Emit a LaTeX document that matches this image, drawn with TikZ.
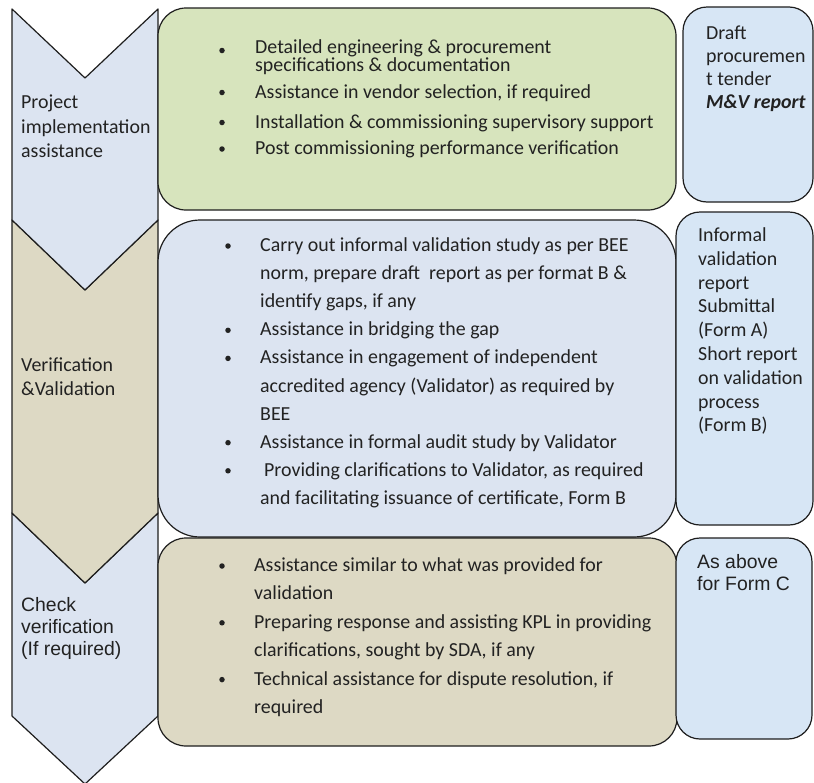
\documentclass[tikz,border=0pt]{standalone}
\usepackage{fontspec}
\setmainfont{Carlito}
\newfontfamily\arialfont{Liberation Sans}

\definecolor{chevblue}{RGB}{220,228,241}
\definecolor{chevtan}{RGB}{221,217,196}
\definecolor{boxgreen}{RGB}{215,228,189}
\definecolor{outbox}{RGB}{215,230,245}
\definecolor{inkc}{RGB}{34,34,34}
\definecolor{edgec}{RGB}{30,30,30}

\begin{document}
\begin{tikzpicture}[x=1pt,y=-1pt,
  shapeline/.style={draw=edgec, line width=1.2pt, line join=round},
  panel/.style={shapeline, rectangle, inner sep=0pt},
  linetxt/.style={anchor=base west, inner sep=0pt, text=inkc,
    font=\fontsize{19.9pt}{24pt}\selectfont},
  arialtxt/.style={anchor=base west, inner sep=0pt, text=inkc,
    font=\arialfont\fontsize{19.4pt}{24pt}\selectfont},
  bulletdot/.style={circle, fill=inkc, inner sep=0pt, minimum size=5.5pt}]

\useasboundingbox (0,0) rectangle (814,782);
\fill[white] (0,0) rectangle (814,782);

% ---- stage chevrons ----
\draw[shapeline, fill=chevblue] (12,513) -- (85,583) -- (158,513) -- (158,716)
  -- (85,784) -- (12,716) -- cycle;
\draw[shapeline, fill=chevtan] (12,220) -- (85,290) -- (158,220) -- (158,513)
  -- (85,583) -- (12,513) -- cycle;
\draw[shapeline, fill=chevblue] (12,9) -- (85,78) -- (158,9) -- (158,220)
  -- (85,290) -- (12,220) -- cycle;

\node[linetxt] (s1a) at (21,108.5) {Project};
\node[linetxt] (s1b) at (21,133) {implementation};
\node[linetxt] (s1c) at (21,157) {assistance};

\node[linetxt] (s2a) at (21,371.5) {Verification};
\node[linetxt] (s2b) at (21,395) {\&Validation};

\node[arialtxt] (s3a) at (21,611) {Check};
\node[arialtxt] (s3b) at (21,633.5) {verification};
\node[arialtxt] (s3c) at (21,655.5) {(If required)};

% ---- activity panels ----
\node[panel, fill=boxgreen, minimum width=518pt, minimum height=202pt,
  rounded corners=28pt] (act1) at (417,109) {};
\node[panel, fill=chevblue, minimum width=518pt, minimum height=317pt,
  rounded corners=42pt] (act2) at (417,378.5) {};
\node[panel, fill=chevtan, minimum width=519pt, minimum height=208pt,
  rounded corners=28pt] (act3) at (417.5,642) {};

% ---- deliverable panels ----
\node[panel, fill=outbox, minimum width=130pt, minimum height=195pt,
  rounded corners=24pt] (out1) at (748,104.5) {};
\node[panel, fill=outbox, minimum width=137pt, minimum height=313pt,
  rounded corners=24pt] (out2) at (744.5,368.5) {};
\node[panel, fill=outbox, minimum width=136pt, minimum height=201pt,
  rounded corners=24pt] (out3) at (744,638.5) {};

% ---- activities: implementation ----
\node[bulletdot] (d11) at (222,50.5) {};
\node[linetxt] (a11) at (255,53.2) {Detailed engineering \& procurement};
\node[linetxt] (a12) at (255,71) {specifications \& documentation};
\node[bulletdot] (d12) at (222,92.5) {};
\node[linetxt] (a13) at (255,98.2) {Assistance in vendor selection, if required};
\node[bulletdot] (d13) at (222,122.5) {};
\node[linetxt] (a14) at (255,128.2) {Installation \& commissioning supervisory support};
\node[bulletdot] (d14) at (222,149) {};
\node[linetxt] (a15) at (255,154.8) {Post commissioning performance verification};

% ---- activities: verification & validation ----
\node[bulletdot] (d21) at (228,246) {};
\node[linetxt] (a21) at (260,251.5) {Carry out informal validation study as per BEE};
\node[linetxt] (a22) at (260,279.6) {norm, prepare draft\ \ report as per format B \&};
\node[linetxt] (a23) at (260,307.7) {identify gaps, if any};
\node[bulletdot] (d22) at (228,330.3) {};
\node[linetxt] (a24) at (260,335.8) {Assistance in bridging the gap};
\node[bulletdot] (d23) at (228,358.4) {};
\node[linetxt] (a25) at (260,363.9) {Assistance in engagement of independent};
\node[linetxt] (a26) at (260,392) {accredited agency (Validator) as required by};
\node[linetxt] (a27) at (260,420.1) {BEE};
\node[bulletdot] (d24) at (228,442.7) {};
\node[linetxt] (a28) at (260,448.2) {Assistance in formal audit study by Validator};
\node[bulletdot] (d25) at (228,470.8) {};
\node[linetxt] (a29) at (264,476.3) {Providing clarifications to Validator, as required};
\node[linetxt] (a2x) at (260,504.4) {and facilitating issuance of certificate, Form B};

% ---- activities: check verification ----
\node[bulletdot] (d31) at (222,566) {};
\node[linetxt] (a31) at (254,571.5) {Assistance similar to what was provided for};
\node[linetxt] (a32) at (254,599.9) {validation};
\node[bulletdot] (d32) at (222,622.8) {};
\node[linetxt] (a33) at (254,628.3) {Preparing response and assisting KPL in providing};
\node[linetxt] (a34) at (254,656.7) {clarifications, sought by SDA, if any};
\node[bulletdot] (d33) at (222,679.6) {};
\node[linetxt] (a35) at (254,685.1) {Technical assistance for dispute resolution, if};
\node[linetxt] (a36) at (254,713.5) {required};

% ---- deliverables ----
\node[linetxt] (o11) at (706,39) {Draft};
\node[linetxt] (o12) at (706,62) {procuremen};
\node[linetxt] (o13) at (706,85) {t tender};
\node[linetxt, font=\fontsize{19.9pt}{24pt}\selectfont\bfseries\itshape] (o14) at (706,108) {M\&V report};

\node[linetxt] (o21) at (698,241.5) {Informal};
\node[linetxt] (o22) at (698,265.3) {validation};
\node[linetxt] (o23) at (698,289.1) {report};
\node[linetxt] (o24) at (698,312.9) {Submittal};
\node[linetxt] (o25) at (698,336.7) {(Form A)};
\node[linetxt] (o26) at (698,360.5) {Short report};
\node[linetxt] (o27) at (698,384.3) {on validation};
\node[linetxt] (o28) at (698,408.1) {process};
\node[linetxt] (o29) at (698,431.9) {(Form B)};

\node[arialtxt] (o31) at (697,568) {As above};
\node[arialtxt] (o32) at (697,590) {for Form C};
\end{tikzpicture}
\end{document}
